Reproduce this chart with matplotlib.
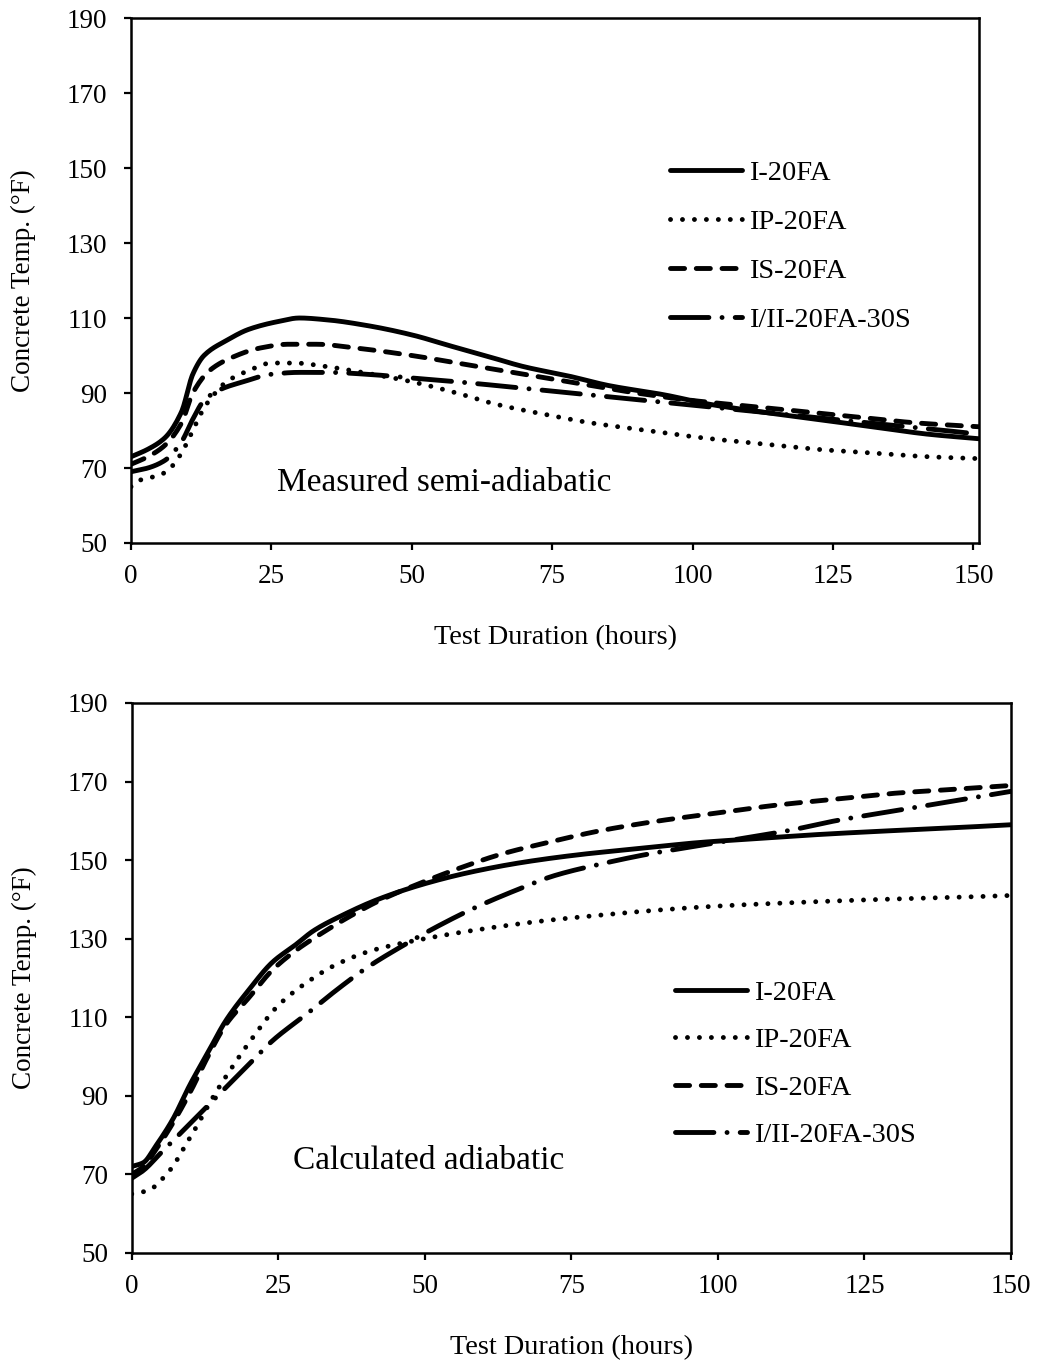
import matplotlib
matplotlib.use("Agg")
import matplotlib.pyplot as plt
import numpy as np

plt.rcParams["font.family"] = ["Liberation Serif", "DejaVu Serif"]

names = ["I-20FA", "IP-20FA", "IS-20FA", "I/II-20FA-30S"]

# Measured semi-adiabatic temperatures (deg F) vs hours
t_meas_1 = [0, 3, 6, 9, 11, 13, 17, 21, 26, 30, 35, 42, 50, 57, 63, 70, 78, 85, 95, 103, 112, 122, 132, 142, 151]
T_meas_1 = [73, 75, 78, 85, 95, 100, 104, 107, 109, 110, 109.5, 108, 105.5, 102.5, 100, 97, 94.5, 92, 89.5, 87, 85, 83, 81, 79, 77.8]
t_meas_2 = [0, 2, 5, 7, 9, 11, 13, 15, 17, 21, 25, 29, 35, 43, 50, 58, 65, 73, 82, 92, 102, 112, 122, 132, 142, 151]
T_meas_2 = [65, 67, 68, 70, 74, 80, 86, 90, 93, 96, 98, 98, 97, 95, 93, 90, 87, 84.5, 82, 80, 78, 76.5, 75, 74, 73, 72.5]
t_meas_3 = [0, 3, 6, 9, 11, 14, 18, 23, 28, 33, 40, 50, 60, 70, 80, 90, 100, 110, 120, 130, 140, 151]
T_meas_3 = [71, 73, 76, 82, 90, 96, 99.5, 102, 103, 103, 102, 100, 97.5, 95, 92.5, 90, 88, 86.5, 85, 83.5, 82, 81]
t_meas_4 = [0, 3, 6, 9, 11, 13, 16, 20, 25, 30, 35, 42, 50, 58, 65, 75, 85, 95, 105, 115, 125, 135, 145, 151]
T_meas_4 = [69, 70, 72, 77, 83, 88, 91, 93, 95, 95.5, 95.5, 95, 94, 93, 92, 90.5, 89, 87.5, 86, 84.5, 83, 81.5, 80, 79]

# Calculated adiabatic temperatures (deg F) vs hours
t_calc_1 = [0, 2, 4, 7, 10, 13, 16, 20, 24, 28, 31, 36, 42, 50, 58, 67, 77, 87, 97, 107, 117, 127, 137, 145, 150]
T_calc_1 = [72, 73, 77, 84, 93, 101, 109, 117, 124, 128.5, 132, 136, 140, 144, 147, 149.5, 151.5, 153, 154.5, 155.5, 156.5, 157.3, 158, 158.6, 159]
t_calc_2 = [0, 3, 5, 7, 9, 11, 14, 17, 20, 25, 30, 35, 41, 50, 60, 70, 80, 90, 100, 110, 120, 130, 140, 150]
T_calc_2 = [65, 66, 68.5, 72, 77, 82, 90, 97, 103.5, 113, 119, 123.5, 127, 130, 132.5, 134.5, 136, 137.3, 138.3, 139, 139.6, 140.1, 140.5, 141]
t_calc_3 = [0, 2, 4, 7, 10, 13, 16, 20, 24, 28, 32, 37, 42, 49, 56, 63, 71, 80, 90, 100, 110, 120, 130, 140, 150]
T_calc_3 = [70, 72, 76, 83, 91, 100, 108, 115, 122, 127, 131, 135.5, 139.5, 144, 148, 151.5, 154.5, 157.5, 160, 162, 164, 165.5, 167, 168, 169]
t_calc_4 = [0, 2, 5, 8, 12, 16, 20, 24, 30, 35, 40, 46, 52, 58, 65, 72, 80, 88, 96, 104, 112, 120, 130, 140, 150]
T_calc_4 = [69, 71, 75.5, 80, 86, 92, 98, 104, 111, 117, 122.5, 128, 133, 137.5, 142, 146, 149, 151.5, 153.5, 155.5, 157.5, 160, 162.5, 165, 167.5]

measured = [(t_meas_1, T_meas_1), (t_meas_2, T_meas_2), (t_meas_3, T_meas_3), (t_meas_4, T_meas_4)]
calculated = [(t_calc_1, T_calc_1), (t_calc_2, T_calc_2), (t_calc_3, T_calc_3), (t_calc_4, T_calc_4)]

lw = 3.5
styles = [
    dict(linestyle="-", solid_capstyle="round"),
    dict(linestyle=(0, (0.01, 2.45)), dash_capstyle="round"),
    dict(linestyle=(0, (2.9, 2.4)), dash_capstyle="round"),
    dict(linestyle=(0, (7.9, 2.7, 0.01, 2.7)), dash_capstyle="round"),
]


def pchip(t, T, n=500):
    # monotone cubic (Fritsch-Carlson) through the read-off points
    x = np.asarray(t, float)
    y = np.asarray(T, float)
    h = np.diff(x)
    d = np.diff(y) / h
    m = np.zeros_like(y)
    m[0], m[-1] = d[0], d[-1]
    for k in range(1, len(x) - 1):
        if d[k - 1] * d[k] > 0:
            w1 = 2 * h[k] + h[k - 1]
            w2 = h[k] + 2 * h[k - 1]
            m[k] = (w1 + w2) / (w1 / d[k - 1] + w2 / d[k])
    xx = np.linspace(x[0], x[-1], n)
    i = np.clip(np.searchsorted(x, xx) - 1, 0, len(x) - 2)
    s = (xx - x[i]) / h[i]
    h00 = 2 * s**3 - 3 * s**2 + 1
    h10 = s**3 - 2 * s**2 + s
    h01 = -2 * s**3 + 3 * s**2
    h11 = s**3 - s**2
    yy = h00 * y[i] + h10 * h[i] * m[i] + h01 * y[i + 1] + h11 * h[i] * m[i + 1]
    return xx, yy


fig = plt.figure(figsize=(10.38, 13.65), dpi=100)
ax1 = fig.add_axes([0.1262, 0.6022, 0.9432 - 0.1262, 0.9868 - 0.6022])
ax2 = fig.add_axes([0.1269, 0.0821, 0.974 - 0.1269, 0.485 - 0.0821])

for ax, data, xmax, note, note_xy, leg_xy, spacing in [
    (ax1, measured, 151, "Measured semi-adiabatic", (0.172, 0.114), (0.619, 0.756), 0.81),
    (ax2, calculated, 150, "Calculated adiabatic", (0.183, 0.167), (0.602, 0.522), 0.75),
]:
    for (t, T), name, st in zip(data, names, styles):
        tt, TT = pchip(t, T)
        ax.plot(tt, TT, color="black", lw=lw, label=name, **st)
    ax.set_xlim(0, xmax)
    ax.set_ylim(50, 190)
    ax.set_xticks([0, 25, 50, 75, 100, 125, 150])
    ax.set_yticks(range(50, 191, 20))
    ax.tick_params(direction="out", length=5, width=1.6, labelsize=19.5, pad=12)
    ax.tick_params(axis="x", pad=10)
    for s in ax.spines.values():
        s.set_linewidth(1.8)
    ax.set_xlabel("Test Duration (hours)", fontsize=20.3, labelpad=26)
    ax.set_ylabel("Concrete Temp. (\u00b0F)", fontsize=19.5, labelpad=22)
    ax.text(note_xy[0], note_xy[1], note, transform=ax.transAxes, fontsize=24, va="center")
    ax.legend(loc="upper left", bbox_to_anchor=leg_xy, frameon=False, fontsize=20.5,
              handlelength=2.53, handletextpad=0.25, labelspacing=spacing, borderpad=0)

fig.savefig("out.png", dpi=100)
